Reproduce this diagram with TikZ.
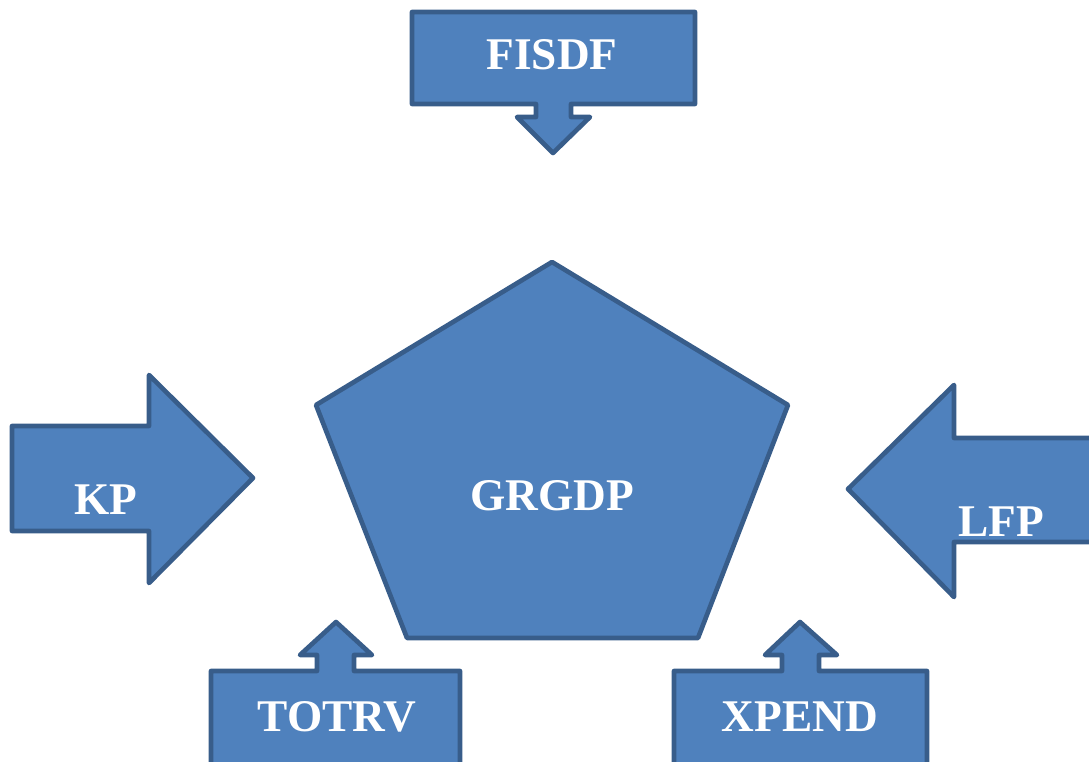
\documentclass[tikz,border=0pt]{standalone}
\usepackage{fontspec}
\setmainfont{Liberation Serif}
\definecolor{shfill}{HTML}{4F81BD}
\definecolor{shline}{HTML}{385D8A}
\begin{document}
\begin{tikzpicture}[x=0.75pt,y=-0.75pt,
  blueshape/.style={fill=shfill,draw=shline,line width=3.5pt,line join=round},
  lbl/.style={text=white,font=\fontsize{34}{37}\selectfont\bfseries,inner sep=0pt}]
\useasboundingbox (0,0) rectangle (1089,761);
\clip (0,0) rectangle (1089,761);
% FISDF callout (down arrow)
\draw[blueshape] (412,12) -- (695,12) -- (695,104) -- (571,104) -- (571,117) -- (590,117)
  -- (553,153) -- (517,117) -- (536,117) -- (536,104) -- (412,104) -- cycle;
% KP right arrow
\draw[blueshape] (12,426) -- (149,426) -- (149,375) -- (253,478) -- (149,583) -- (149,531) -- (12,531) -- cycle;
% LFP left arrow
\draw[blueshape] (1100,438) -- (954,438) -- (954,385) -- (848,489) -- (954,597) -- (954,542) -- (1100,542);
% Pentagon
\draw[blueshape] (552,262) -- (788,405) -- (698,638) -- (407,638) -- (316,405) -- cycle;
% TOTRV callout (up arrow)
\draw[blueshape] (211,775) -- (211,671) -- (317,671) -- (317,655) -- (300,655) -- (336,622)
  -- (372,655) -- (354,655) -- (354,671) -- (460,671) -- (460,775);
% XPEND callout (up arrow)
\draw[blueshape] (674,775) -- (674,671) -- (782,671) -- (782,655) -- (765,655) -- (800,622)
  -- (837,655) -- (819,655) -- (819,671) -- (927,671) -- (927,775);
% labels
\node[lbl] (fisdf) at (552,55) {FISDF};
\node[lbl] (kp) at (106,500) {KP};
\node[lbl] (lfp) at (1001,522) {LFP};
\node[lbl] (grgdp) at (552,496) {GRGDP};
\node[lbl] (totrv) at (337,717) {TOTRV};
\node[lbl] (xpend) at (800,717) {XPEND};
\end{tikzpicture}
\end{document}
